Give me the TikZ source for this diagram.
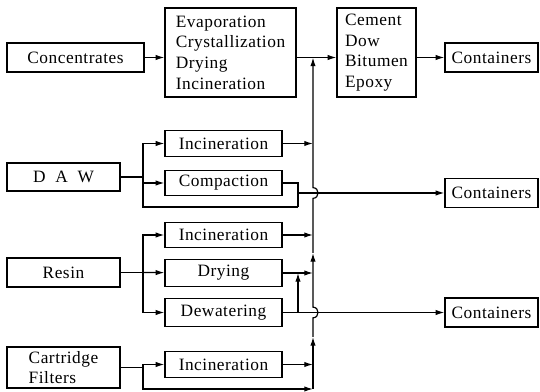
\documentclass[tikz,border=0pt]{standalone}
\usepackage{fontspec}
\setmainfont[LetterSpace=3]{Liberation Serif}
\usetikzlibrary{arrows.meta}
\tikzset{
  box/.style={draw, line width=0.9pt, inner sep=2pt, font=\fontsize{13}{15.5}\selectfont},
  arr/.style={line width=0.9pt, -{Latex[length=6.5pt,width=4pt]}},
  line/.style={line width=0.9pt}
}

\begin{document}
\begin{tikzpicture}[x=0.75pt, y=-0.75pt]
  \useasboundingbox (0,0) rectangle (540,392);

  % Define boxes
  \node[box, minimum width=102.75pt, minimum height=21.75pt] (conc) at (75.5,57.5) {Concentrates};
  \node[box, minimum width=98.25pt, minimum height=66.75pt, align=left] (treat) at (230.5,52.5) {Evaporation\\Crystallization\\Drying\\Incineration};
  \node[box, minimum width=59.25pt, minimum height=66.75pt, align=left] (cement) at (376.5,52.5) {Cement\\Dow\\Bitumen\\Epoxy};
  \node[box, minimum width=69.75pt, minimum height=21.75pt] (cont1) at (491.5,57.5) {Containers};

  \node[box, minimum width=84.75pt, minimum height=21pt] (daw) at (63.5,177) {D\ \ A\ \ W};
  \node[box, minimum width=87.75pt, minimum height=19pt] (inc1) at (223.5,143.5) {Incineration};
  \node[box, minimum width=87.75pt, minimum height=19pt] (comp) at (223.5,183) {Compaction};
  \node[box, minimum width=69.75pt, minimum height=21.75pt] (cont2) at (491.5,193) {Containers};

  \node[box, minimum width=84.75pt, minimum height=21.75pt] (resin) at (63.5,272.5) {Resin};
  \node[box, minimum width=87.75pt, minimum height=19pt] (inc2) at (223.5,235) {Incineration};
  \node[box, minimum width=87.75pt, minimum height=20pt] (dry) at (223.5,273) {Drying};
  \node[box, minimum width=87.75pt, minimum height=21pt] (dew) at (223.5,312.5) {Dewatering};
  \node[box, minimum width=69.75pt, minimum height=21.75pt] (cont3) at (491.5,312.5) {Containers};

  \node[box, minimum width=84.75pt, minimum height=30.75pt, inner sep=0pt, align=left] (cart) at (63.5,367.5) {Cartridge\\Filters};
  \node[box, minimum width=87.75pt, minimum height=20pt] (inc3) at (223.5,364.5) {Incineration};

  % Bus and branch points
  \coordinate (bA) at (313,57.5);
  \coordinate (bB) at (313,143.5);
  \coordinate (bhopD) at (313,193);
  \coordinate (bC) at (313,235);
  \coordinate (tipC) at (313,253);
  \coordinate (bD) at (313,273);
  \coordinate (bhopR) at (313,312.5);
  \coordinate (tipR) at (313,337);
  \coordinate (bE) at (313,364.5);
  \coordinate (bF) at (313,389);
  \coordinate (dawsplit) at (143,177);
  \coordinate (dawlow) at (298,207);
  \coordinate (dawout) at (298,193);
  \coordinate (rsplit) at (143,272.5);
  \coordinate (dewup) at (298,312.5);
  \coordinate (csplit) at (143,367.5);

  % Draw arrows
  \draw[arr] (conc) -- (conc -| treat.west);
  \draw[arr] (treat.east |- bA) -- (cement.west |- bA);
  \draw[arr] (cement.east |- cont1) -- (cont1);

  \draw[line] (daw) -- (dawsplit);
  \draw[arr] (dawsplit) |- (inc1);
  \draw[arr] (dawsplit |- comp) -- (comp);
  \draw[line] (dawsplit) |- (dawlow);
  \draw[line] (comp.east) -| (dawlow);
  \draw[arr] (dawout) -- (cont2);
  \draw[arr] (inc1) -- (bB);

  \draw[line] (resin) -- (rsplit);
  \draw[arr] (rsplit) |- (inc2);
  \draw[arr] (rsplit) -- (dry);
  \draw[arr] (rsplit) |- (dew);
  \draw[arr] (inc2) -- (bC);
  \draw[arr] (dry) -- (bD);
  \draw[arr] (dew) -- (cont3);
  \draw[arr] (dewup) -- (dewup |- dry);

  \draw[line] (cart) -- (csplit);
  \draw[arr] (csplit) |- (inc3);
  \draw[arr] (csplit) |- (bF);
  \draw[arr] (inc3) -- (bE);

  % Vertical bus with hops
  \draw[arr] (bF) -- (tipR);
  \draw[arr] (tipR) -- ([yshift=-4pt]bhopR) .. controls +(5pt,0) and +(5pt,0) .. ([yshift=4pt]bhopR) -- (tipC);
  \draw[arr] (tipC) -- ([yshift=-4pt]bhopD) .. controls +(5pt,0) and +(5pt,0) .. ([yshift=4pt]bhopD) -- (bA);
\end{tikzpicture}
\end{document}
